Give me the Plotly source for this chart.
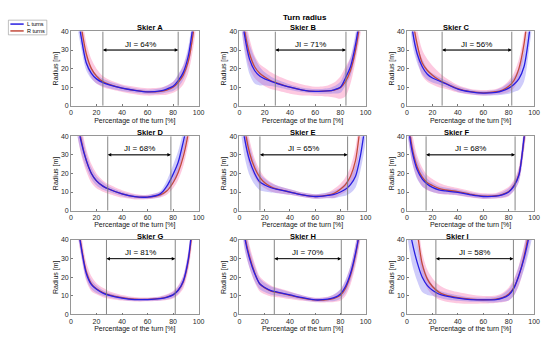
import plotly.graph_objects as go

# Percentage of the turn (grid on which values were read)
pct = [0, 4, 8, 12, 16, 20, 25, 30, 40, 50, 60, 70, 75, 80, 84, 88, 92, 96, 100]

skiers = ["A", "B", "C", "D", "E", "F", "G", "H", "I"]

# Mean turn radius [m], left turns
L_mean = {
    "A": [80, 55, 37, 23, 17.5, 14.5, 12.5, 11.3, 9.5, 8.3, 7.5, 8, 9, 10.5, 13.5, 18, 27, 45, 70],
    "B": [60, 38, 25, 19, 16, 14.5, 13.2, 12, 10, 8.5, 7.8, 8, 8.6, 10, 15, 21, 33, 50, 70],
    "C": [80, 42, 28, 21, 17, 15, 13.5, 12, 9, 7.5, 6.8, 7.2, 8, 9.5, 11.5, 14.5, 21, 38, 65],
    "D": [80, 52, 37, 27, 20, 16, 13.2, 11.5, 9, 7.5, 7.3, 9, 13, 19.5, 26, 37, 50, 70, 90],
    "E": [60, 39, 27, 20, 15.5, 13.8, 12.3, 11.4, 10, 8.5, 7.6, 8.2, 8.7, 10, 11.5, 14, 18.5, 30, 48],
    "F": [50, 32, 22, 17, 14.2, 12.5, 11.2, 10.6, 9.8, 8.5, 7.6, 7.8, 8.5, 10, 13, 19, 39, 65, 90],
    "G": [85, 55, 36, 22, 16, 13.5, 11.5, 10.3, 8.8, 8, 8, 8.5, 9.2, 10.5, 13, 18, 30, 55, 85],
    "H": [70, 42, 30, 22, 16.5, 14.5, 12.8, 12, 10.5, 9, 7.8, 8.2, 9, 11, 15, 22, 33, 48, 70],
    "I": [55, 39, 28, 20, 15.5, 13, 11, 10, 8.8, 8, 7.8, 8, 8.8, 10.5, 14, 21, 30, 42, 58],
}
# Mean turn radius [m], right turns
R_mean = {
    "A": [90, 65, 43, 28, 20, 16, 13, 11.5, 9.5, 8.3, 7.5, 7.8, 8.5, 10, 12.5, 16.5, 24, 40, 65],
    "B": [65, 41, 28, 21, 17.5, 15.5, 13.5, 12.2, 10, 8.5, 7.8, 8, 8.5, 9.8, 13, 19, 30, 47, 70],
    "C": [90, 50, 33, 23, 19, 16.5, 14, 12.2, 9.2, 7.6, 7, 7.6, 8.5, 10.5, 13.5, 20, 33, 55, 80],
    "D": [85, 55, 38, 27, 20, 16, 13.2, 11.5, 9, 7.5, 7.3, 8.5, 10.5, 15, 20.5, 29, 42, 60, 85],
    "E": [70, 45, 31, 23, 18, 15, 12.8, 11.5, 10, 8.5, 7.6, 8.3, 9.3, 11.5, 14, 18.5, 27, 47, 70],
    "F": [55, 34, 23.5, 18, 15, 13.5, 12, 11.2, 10.2, 8.8, 7.8, 8, 8.8, 10.3, 13.5, 19.5, 38, 62, 90],
    "G": [88, 57, 37, 23, 16.5, 13.8, 11.8, 10.5, 9, 8.2, 8.1, 8.6, 9.3, 10.6, 13, 17.5, 29, 52, 85],
    "H": [72, 43, 31, 22.5, 16.5, 14.3, 12.6, 11.8, 10.3, 8.8, 7.8, 8, 8.7, 10.3, 14, 21, 32, 48, 70],
    "I": [90, 70, 45, 27, 19, 15, 12, 10.5, 9, 8.2, 7.9, 8.2, 9, 11, 14.5, 21, 31, 45, 65],
}
# Band half-widths [m]
L_sd = {
    "A": [10, 8, 6, 4, 3, 2.5, 2, 1.8, 1.5, 1.2, 1.2, 1.5, 1.8, 2.5, 3.5, 4, 5, 7, 9],
    "B": [10, 9, 8, 7, 5, 3.5, 2.5, 2, 1.5, 1.2, 1.2, 1.5, 2, 3, 4, 5, 6, 8, 10],
    "C": [10, 8, 5, 4, 3, 2.5, 2, 1.8, 1.5, 1.2, 1.2, 1.5, 2, 3, 4, 6, 8, 8, 10],
    "D": [10, 8, 6, 4, 3, 2.5, 2, 1.5, 1.2, 1, 1, 1.5, 3, 5, 6, 6, 7, 8, 10],
    "E": [12, 10, 8, 6, 4.5, 3.5, 2.5, 2, 1.5, 1.2, 1.2, 1.5, 2, 2.5, 3.5, 4.5, 6, 8, 10],
    "F": [8, 6, 5, 4, 3, 2.5, 2, 1.8, 1.5, 1.2, 1.2, 1.2, 1.5, 2, 2.5, 3.5, 6, 8, 10],
    "G": [8, 6, 4, 3, 2.5, 2, 1.5, 1.2, 1, 0.8, 0.8, 1, 1.2, 1.5, 2, 2.5, 4, 6, 8],
    "H": [8, 7, 5, 4, 3, 2.5, 2.2, 2, 1.5, 1.2, 1, 1.2, 1.8, 2.5, 3.5, 4, 5, 6, 8],
    "I": [12, 12, 10, 8, 5, 3, 2, 1.8, 1.5, 1.2, 1.2, 1.5, 2, 3, 4, 5, 6, 8, 10],
}
R_sd = {
    "A": [12, 10, 8, 6, 5, 4, 3, 2.5, 2, 2, 2, 2, 2.5, 3, 4, 5, 6, 8, 10],
    "B": [12, 10, 8, 6, 5, 5, 4.5, 4, 3.5, 3, 2.5, 3, 4, 6, 8, 7, 6, 8, 10],
    "C": [12, 10, 8, 7, 6, 5, 4, 3, 2, 1.5, 1.5, 1.5, 2, 3, 4, 5, 6, 8, 10],
    "D": [12, 10, 8, 6, 5, 4, 3, 2.5, 2, 1.5, 1.2, 1.5, 2, 3, 4, 5, 6, 8, 10],
    "E": [10, 8, 7, 5, 4, 3, 2.5, 2, 1.5, 1.2, 1.2, 1.5, 2.5, 3, 4, 5, 7, 9, 12],
    "F": [10, 8, 6, 5, 4, 3.5, 3, 2.5, 2, 1.8, 1.5, 1.5, 2, 2.5, 3, 4, 6, 8, 10],
    "G": [10, 8, 6, 5, 4, 3, 2.5, 2, 1.5, 1.2, 1, 1.2, 1.5, 2, 2.5, 3.5, 5, 7, 9],
    "H": [8, 7, 6, 5, 4, 3.5, 3, 2.5, 2, 1.5, 1.2, 1.5, 2, 3, 4, 5, 6, 7, 9],
    "I": [10, 9, 8, 6, 5, 4.5, 4, 3.5, 3, 2.5, 2, 2, 2.5, 3.5, 4.5, 5.5, 6, 8, 10],
}
# JI phase boundaries (% of turn) and JI values
ji_start = {"A": 25, "B": 28.4, "C": 27.6, "D": 28.8, "E": 16.2, "F": 15, "G": 27.8, "H": 27.6, "I": 22.7}
ji_end = {"A": 84, "B": 84.4, "C": 82.4, "D": 78.3, "E": 85.7, "F": 85, "G": 81.7, "H": 80.7, "I": 83.7}
ji_value = {"A": 64, "B": 71, "C": 56, "D": 68, "E": 65, "F": 68, "G": 81, "H": 70, "I": 58}

W, H = 550, 339
col_px = [(70, 199.5), (241, 369), (411, 540)]
row_px = [(28, 104), (135, 211), (241, 317)]

L_COL = "rgb(40,30,225)"
R_COL = "rgb(195,75,60)"
L_BAND = "rgba(110,100,240,0.33)"
R_BAND = "rgba(250,90,160,0.33)"
FONT = "Liberation Sans, Arial, sans-serif"

fig = go.Figure()
annotations = []
shapes = []

for i, s in enumerate(skiers):
    r, c = divmod(i, 3)
    n = i + 1
    xa = "x" if n == 1 else f"x{n}"
    ya = "y" if n == 1 else f"y{n}"
    # bands
    for mean, sd, col in ((R_mean[s], R_sd[s], R_BAND), (L_mean[s], L_sd[s], L_BAND)):
        up = [m + d for m, d in zip(mean, sd)]
        lo = [max(m - d, 0) for m, d in zip(mean, sd)]
        fig.add_trace(go.Scatter(
            x=pct + pct[::-1], y=up + lo[::-1], fill="toself", fillcolor=col,
            line=dict(width=0, shape="spline", smoothing=0.8), mode="lines",
            hoverinfo="skip", showlegend=False, xaxis=xa, yaxis=ya))
    fig.add_trace(go.Scatter(x=pct, y=R_mean[s], mode="lines",
                             line=dict(color=R_COL, width=1.3, shape="spline", smoothing=0.8),
                             showlegend=False, xaxis=xa, yaxis=ya))
    fig.add_trace(go.Scatter(x=pct, y=L_mean[s], mode="lines",
                             line=dict(color=L_COL, width=1.3, shape="spline", smoothing=0.8),
                             showlegend=False, xaxis=xa, yaxis=ya))

    x0, x1 = col_px[c]
    yt, yb = row_px[r]
    axstyle = dict(showgrid=False, zeroline=False, showline=True, mirror=True,
                   linecolor="rgb(150,150,150)", linewidth=0.8, ticks="inside",
                   ticklen=2, tickcolor="rgb(120,120,120)",
                   tickfont=dict(size=7, color="rgb(40,40,40)", family=FONT))
    fig.layout[f"xaxis{'' if n == 1 else n}"] = dict(
        domain=[x0 / W, x1 / W], anchor=ya, range=[0, 100], dtick=20,
        title=dict(text="Percentage of the turn [%]", standoff=2,
                   font=dict(size=7, color="rgb(20,20,20)", family=FONT)),
        **axstyle)
    fig.layout[f"yaxis{'' if n == 1 else n}"] = dict(
        domain=[1 - yb / H, 1 - yt / H], anchor=xa, range=[0, 40], dtick=10,
        title=dict(text="Radius [m]", standoff=1,
                   font=dict(size=7, color="rgb(20,20,20)", family=FONT)),
        **axstyle)

    # JI boundary lines
    for xv in (ji_start[s], ji_end[s]):
        shapes.append(dict(type="line", xref=xa, yref=ya, x0=xv, x1=xv, y0=0, y1=40,
                           line=dict(color="rgb(120,120,120)", width=0.9)))
    # double arrow
    annotations.append(dict(x=ji_end[s], y=30, ax=ji_start[s], ay=30, xref=xa, yref=ya,
                            axref=xa, ayref=ya, text="", showarrow=True, arrowhead=2,
                            arrowsize=1, arrowwidth=0.7, arrowcolor="black"))
    annotations.append(dict(x=ji_start[s], y=30, ax=ji_end[s], ay=30, xref=xa, yref=ya,
                            axref=xa, ayref=ya, text="", showarrow=True, arrowhead=2,
                            arrowsize=1, arrowwidth=0.7, arrowcolor="black"))
    annotations.append(dict(x=(ji_start[s] + ji_end[s]) / 2, y=30, xref=xa, yref=ya,
                            text=f"JI = {ji_value[s]}%", showarrow=False, yshift=6,
                            font=dict(size=8, color="black", family=FONT)))
    # subplot title
    annotations.append(dict(x=(x0 + x1) / 2 / W, y=1 - (yt - 4) / H, xref="paper", yref="paper",
                            text=f"<b>Skier {s}</b>", showarrow=False, yanchor="middle",
                            font=dict(size=7.5, color="black", family=FONT)))

# main title
annotations.append(dict(x=307 / W, y=1 - 14 / H, xref="paper", yref="paper",
                        text="<b>Turn radius</b>", showarrow=False, yanchor="middle",
                        font=dict(size=8, color="black", family=FONT)))

# legend (drawn)
shapes.append(dict(type="rect", xref="paper", yref="paper", x0=6.5 / W, x1=45.5 / W,
                   y0=1 - 31.5 / H, y1=1 - 16.5 / H, line=dict(color="rgb(150,150,150)", width=0.6),
                   fillcolor="white"))
for yy, col, lab in ((20.5, L_COL, "L turns"), (27.5, R_COL, "R turns")):
    shapes.append(dict(type="line", xref="paper", yref="paper", x0=8.5 / W, x1=22 / W,
                       y0=1 - yy / H, y1=1 - yy / H, line=dict(color=col, width=1.5)))
    annotations.append(dict(x=23 / W, y=1 - yy / H, xref="paper", yref="paper", text=lab,
                            showarrow=False, xanchor="left", yanchor="middle",
                            font=dict(size=5.5, color="black", family=FONT)))

fig.update_layout(width=W, height=H, margin=dict(l=0, r=0, t=0, b=0),
                  plot_bgcolor="white", paper_bgcolor="white",
                  annotations=annotations, shapes=shapes, showlegend=False)

fig.write_html("out.html", config={"displayModeBar": False},
               post_script="document.body.style.margin='0';document.body.style.overflow='hidden';")
